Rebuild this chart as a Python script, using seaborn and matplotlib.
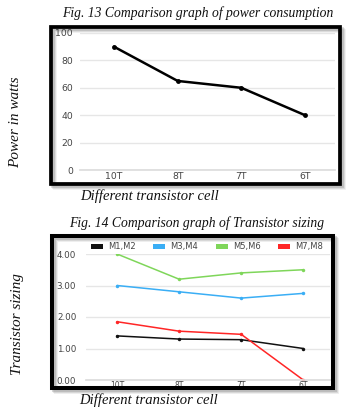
import matplotlib
matplotlib.use("Agg")
import matplotlib.pyplot as plt
from matplotlib.patches import Rectangle, Patch
import seaborn as sns
import pandas as pd

# data
cells = ["10T", "8T", "7T", "6T"]
power = [90, 65, 60, 40]

m12 = [1.40, 1.30, 1.28, 1.00]
m34 = [3.00, 2.80, 2.60, 2.75]
m56 = [4.00, 3.20, 3.40, 3.50]
m78 = [1.85, 1.55, 1.45, 0.00]
series = ["M1,M2", "M3,M4", "M5,M6", "M7,M8"]
colors = ["#111111", "#3aaef5", "#7fd65a", "#ff2626"]

sns.set_theme(style="white")
plt.rcParams["font.family"] = ["DejaVu Sans"]

W, H = 351, 413
fig = plt.figure(figsize=(W / 100, H / 100), dpi=100)


def fx(x):
    return x / W


def fy(y):
    return 1 - y / H


def axes_px(l, r, t, b):
    return fig.add_axes([fx(l), fy(b), (r - l) / W, (b - t) / H])


def frame(l, r, t, b, lw):
    # drop shadow, then the black box
    for off, a in [(4, 0.12), (3, 0.2), (2, 0.3)]:
        fig.add_artist(Rectangle((fx(l + off), fy(b + off)), (r - l) / W, (b - t) / H,
                                 transform=fig.transFigure, fill=False,
                                 lw=lw, ec="#808080", alpha=a, zorder=0))
    fig.add_artist(Rectangle((fx(l), fy(b)), (r - l) / W, (b - t) / H,
                             transform=fig.transFigure, fill=False,
                             lw=lw, ec="black", zorder=5))


serif = dict(family="Liberation Serif", style="italic", color="#111111")

# ---------- Fig. 13 ----------
fig.text(fx(198), fy(13), "Fig. 13 Comparison graph of power consumption",
         ha="center", va="center", fontsize=9.8, **serif)
frame(50.5, 339.5, 26.5, 184, 2.7)

ax1 = axes_px(80, 335, 33, 170)
df1 = pd.DataFrame({"cell": cells, "power": power})
sns.lineplot(data=df1, x="cell", y="power", ax=ax1, color="black", lw=1.8,
             marker="o", markersize=3.5, markeredgewidth=0, sort=False)
ax1.set_ylim(0, 100)
ax1.set_xlim(-0.534, 3.471)
ax1.set_yticks([0, 20, 40, 60, 80, 100])
ax1.yaxis.grid(True, color="#e6e6e6", lw=1)
for s in ["top", "right", "left"]:
    ax1.spines[s].set_visible(False)
ax1.spines["bottom"].set_color("#dddddd")
ax1.tick_params(axis="y", length=0, pad=5, labelsize=6.7, labelcolor="#444444")
ax1.tick_params(axis="x", length=0, pad=1.5, labelsize=6.7, labelcolor="#444444")
ax1.set_xlabel("")
ax1.set_ylabel("")
ax1.patch.set_alpha(0)

fig.text(fx(16), fy(122), "Power in watts", rotation=90, ha="center",
         va="center", fontsize=11, **serif)
fig.text(fx(150), fy(196), "Different transistor cell", ha="center",
         va="center", fontsize=10.5, **serif)

# ---------- Fig. 14 ----------
fig.text(fx(197), fy(223), "Fig. 14 Comparison graph of Transistor sizing",
         ha="center", va="center", fontsize=9.8, **serif)
frame(52, 333, 236, 388, 2.9)

ax2 = axes_px(86, 330, 254, 380)
df2 = pd.DataFrame({
    "cell": cells * 4,
    "size": m12 + m34 + m56 + m78,
    "pair": [s for s in series for _ in cells],
})
sns.lineplot(data=df2, x="cell", y="size", hue="pair", ax=ax2,
             palette=dict(zip(series, colors)), lw=1.1, marker="o",
             markersize=2.5, markeredgewidth=0, sort=False)
ax2.set_ylim(0, 4)
ax2.set_xlim(-0.5, 3.43)
ax2.set_yticks([0, 1, 2, 3, 4])
ax2.set_yticklabels(["0.00", "1.00", "2.00", "3.00", "4.00"])
ax2.yaxis.grid(True, color="#e6e6e6", lw=1)
for s in ["top", "right", "left"]:
    ax2.spines[s].set_visible(False)
ax2.spines["bottom"].set_color("#dddddd")
ax2.tick_params(axis="y", length=0, pad=7, labelsize=6.3, labelcolor="#444444")
ax2.tick_params(axis="x", length=0, pad=1, labelsize=5.5, labelcolor="#444444")
ax2.set_xlabel("")
ax2.set_ylabel("")
ax2.patch.set_alpha(0)
handles = [Patch(facecolor=c, edgecolor="none") for c in colors]
ax2.legend(handles, series, ncol=4, loc="center",
           bbox_to_anchor=(fx(207), fy(247)), bbox_transform=fig.transFigure,
           frameon=False, fontsize=6, handlelength=1.45, handleheight=0.6,
           handletextpad=0.6, columnspacing=2.1, labelcolor="#444444",
           borderaxespad=0, borderpad=0)

fig.text(fx(18), fy(324), "Transistor sizing", rotation=90, ha="center",
         va="center", fontsize=11, **serif)
fig.text(fx(149), fy(400), "Different transistor cell", ha="center",
         va="center", fontsize=10.5, **serif)

fig.savefig("out.png", dpi=100)
